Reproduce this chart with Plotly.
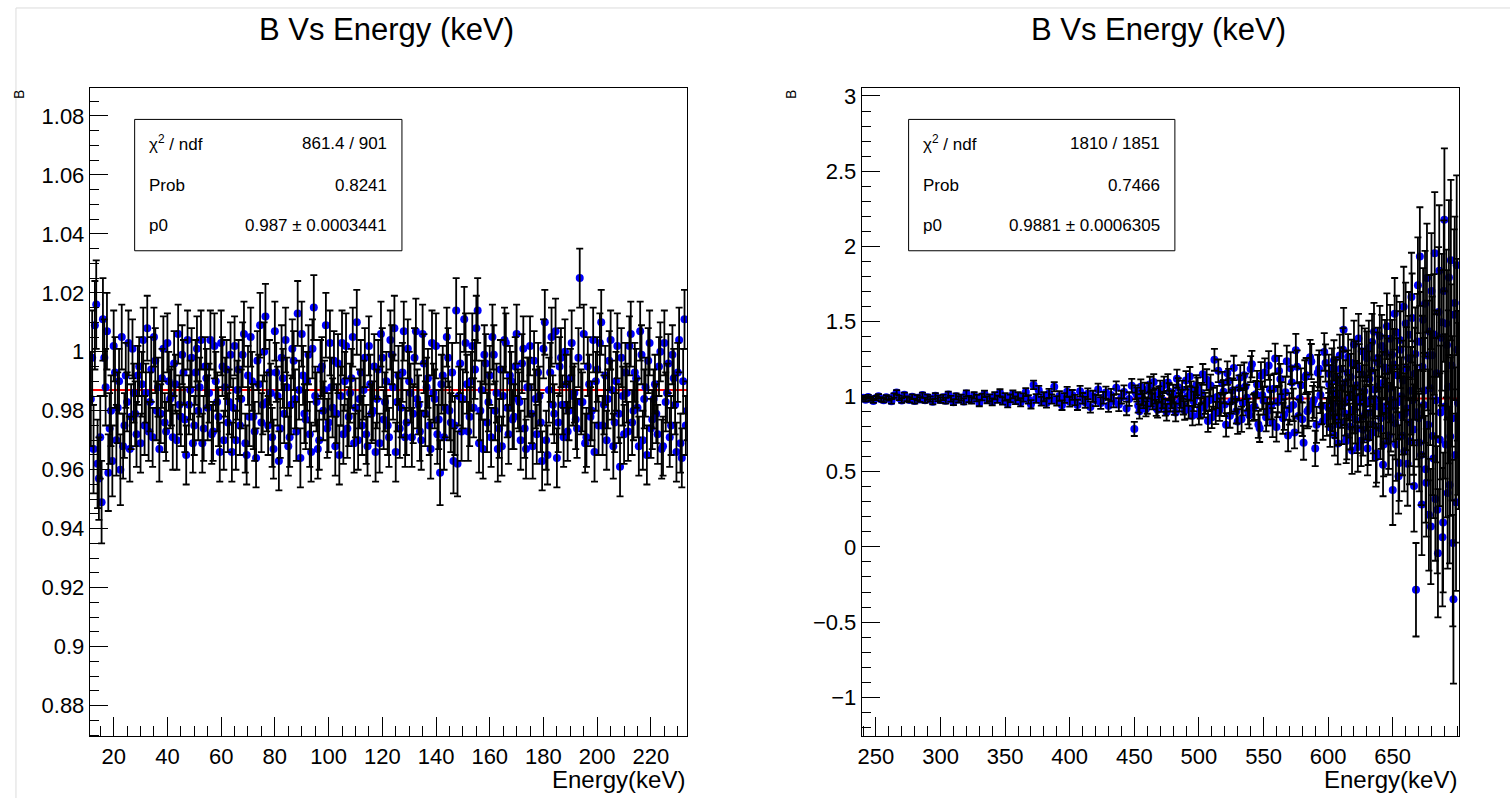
import plotly.graph_objects as go

# ================= left panel: 10-234 keV =================
# bins centred on x.5 keV
energy_left_a = [
    11.5, 12.5, 13.5, 14.5, 15.5, 16.5, 17.5, 18.5, 19.5, 20.5,
    21.5, 22.5, 23.5, 24.5, 25.5, 26.5, 27.5, 28.5, 29.5, 30.5,
    31.5, 32.5, 33.5, 34.5, 35.5, 36.5, 37.5, 38.5, 39.5, 40.5,
    41.5, 42.5, 43.5, 44.5, 45.5, 46.5, 47.5, 48.5, 49.5, 50.5,
    51.5, 52.5, 53.5, 54.5, 55.5, 56.5, 57.5, 58.5, 59.5, 60.5,
    61.5, 62.5, 63.5, 64.5, 65.5, 66.5, 67.5, 68.5, 69.5, 70.5,
    71.5, 72.5, 73.5, 74.5, 75.5, 76.5, 77.5, 78.5, 79.5, 80.5,
    81.5, 82.5, 83.5, 84.5, 85.5, 86.5, 87.5, 88.5, 89.5, 90.5,
    91.5, 92.5, 93.5, 94.5, 95.5, 96.5, 97.5, 98.5, 99.5, 100.5,
    101.5, 102.5, 103.5, 104.5, 105.5, 106.5, 107.5, 108.5, 109.5, 110.5,
    111.5, 112.5, 113.5, 114.5, 115.5, 116.5, 117.5, 118.5, 119.5, 120.5,
    121.5, 122.5, 123.5, 124.5, 125.5, 126.5, 127.5, 128.5, 129.5, 130.5,
    131.5, 132.5, 133.5, 134.5, 135.5, 136.5, 137.5, 138.5, 139.5, 140.5,
    141.5, 142.5, 143.5, 144.5, 145.5, 146.5, 147.5, 148.5, 149.5, 150.5,
    151.5, 152.5, 153.5, 154.5, 155.5, 156.5, 157.5, 158.5, 159.5, 160.5,
    161.5, 162.5, 163.5, 164.5, 165.5, 166.5, 167.5, 168.5, 169.5, 170.5,
    171.5, 172.5, 173.5, 174.5, 175.5, 176.5, 177.5, 178.5, 179.5, 180.5,
    181.5, 182.5, 183.5, 184.5, 185.5, 186.5, 187.5, 188.5, 189.5, 190.5,
    191.5, 192.5, 193.5, 194.5, 195.5, 196.5, 197.5, 198.5, 199.5, 200.5,
    201.5, 202.5, 203.5, 204.5, 205.5, 206.5, 207.5, 208.5, 209.5, 210.5,
    211.5, 212.5, 213.5, 214.5, 215.5, 216.5, 217.5, 218.5, 219.5, 220.5,
    221.5, 222.5, 223.5, 224.5, 225.5, 226.5, 227.5, 228.5, 229.5, 230.5,
    231.5, 232.5, 233.5,
]

b_left_a = [
    0.984, 0.967, 1.016, 0.957, 0.949, 0.998, 1.007, 0.974, 0.963, 0.993,
    0.981, 0.960, 0.968, 0.992, 1.003, 0.978, 0.986, 0.972, 0.995, 0.989,
    0.975, 1.008, 0.983, 0.971, 0.997, 0.988, 0.979, 1.001, 0.973, 0.990,
    0.985, 0.996, 0.970, 0.982, 0.999, 0.977, 1.004, 0.987, 0.969, 0.993,
    0.980, 1.004, 0.974, 0.991, 0.986, 0.972, 1.002, 0.983, 0.966, 0.995,
    0.988, 0.976, 0.999, 0.981, 0.970, 0.994, 0.984, 1.006, 0.965, 0.978,
    0.990, 0.973, 0.997, 1.009, 0.982, 1.012, 0.975, 0.986, 0.967, 0.993,
    0.963, 0.998, 0.979, 0.988, 0.971, 1.001, 0.984, 1.013, 0.964, 0.992,
    0.977, 0.999, 0.966, 1.015, 0.983, 0.970, 0.995, 0.987, 0.974, 1.003,
    0.981, 0.968, 0.996, 0.985, 0.972, 1.002, 0.978, 0.991, 0.969, 1.010,
    0.984, 0.975, 0.998, 0.968, 0.989, 0.980, 0.966, 0.994, 1.006, 0.977,
    0.990, 0.971, 0.999, 1.008, 0.983, 0.974, 0.993, 0.971, 1.001, 0.986,
    0.979, 1.007, 0.982, 0.970, 0.996, 0.988, 0.975, 1.003, 0.984, 0.972,
    0.959, 0.992, 0.981, 0.998, 0.976, 0.963, 1.014, 0.985, 0.973, 1.011,
    0.989, 0.978, 1.002, 0.994, 1.014, 0.980, 0.967, 0.996, 0.983, 0.971,
    0.999, 0.986, 0.974, 0.968, 1.004, 0.981, 0.992, 0.977, 0.995, 0.984,
    0.970, 1.001, 0.967, 0.988, 0.979, 0.997, 0.972, 0.985, 0.963, 1.010,
    0.965, 0.993, 0.982, 1.007, 0.976, 0.998, 0.971, 0.989, 0.980, 1.003,
    0.986, 0.974, 1.025, 0.983, 0.969, 0.995, 0.978, 1.004, 0.990, 0.975,
    1.010, 0.982, 0.970, 0.997, 0.987, 0.976, 1.002, 0.961, 0.985, 0.993,
    0.973, 1.006, 0.980, 0.991, 0.968, 0.999, 0.984, 0.965, 1.003, 0.977,
    0.989, 0.972, 1.000, 0.968, 0.983, 0.996, 0.975, 0.991, 0.966, 1.004,
    0.964, 1.011, 0.980,
]

err_left_a = [
    0.016, 0.015, 0.015, 0.014, 0.014, 0.013, 0.013, 0.012, 0.012, 0.012,
    0.012, 0.012, 0.011, 0.011, 0.011, 0.011, 0.010, 0.011, 0.010, 0.011,
    0.010, 0.011, 0.010, 0.010, 0.011, 0.010, 0.010, 0.011, 0.010, 0.010,
    0.010, 0.011, 0.010, 0.010, 0.010, 0.011, 0.010, 0.010, 0.010, 0.011,
    0.010, 0.010, 0.011, 0.010, 0.010, 0.010, 0.011, 0.010, 0.010, 0.010,
    0.010, 0.010, 0.011, 0.010, 0.010, 0.010, 0.010, 0.011, 0.010, 0.010,
    0.010, 0.010, 0.010, 0.011, 0.010, 0.011, 0.010, 0.010, 0.010, 0.010,
    0.010, 0.011, 0.010, 0.010, 0.010, 0.010, 0.010, 0.011, 0.010, 0.010,
    0.010, 0.010, 0.010, 0.011, 0.010, 0.010, 0.010, 0.010, 0.010, 0.011,
    0.010, 0.010, 0.010, 0.010, 0.010, 0.011, 0.010, 0.010, 0.010, 0.011,
    0.010, 0.010, 0.010, 0.010, 0.010, 0.010, 0.010, 0.010, 0.011, 0.010,
    0.010, 0.010, 0.010, 0.011, 0.010, 0.010, 0.010, 0.010, 0.010, 0.010,
    0.010, 0.011, 0.010, 0.010, 0.010, 0.010, 0.010, 0.011, 0.010, 0.010,
    0.011, 0.010, 0.010, 0.010, 0.010, 0.011, 0.011, 0.010, 0.010, 0.011,
    0.010, 0.010, 0.011, 0.010, 0.011, 0.010, 0.010, 0.010, 0.010, 0.010,
    0.010, 0.010, 0.010, 0.010, 0.011, 0.010, 0.010, 0.010, 0.010, 0.010,
    0.010, 0.011, 0.010, 0.010, 0.010, 0.010, 0.010, 0.010, 0.010, 0.011,
    0.010, 0.010, 0.010, 0.011, 0.010, 0.010, 0.010, 0.010, 0.010, 0.011,
    0.010, 0.010, 0.010, 0.010, 0.010, 0.010, 0.010, 0.011, 0.010, 0.010,
    0.011, 0.010, 0.010, 0.010, 0.010, 0.010, 0.011, 0.010, 0.010, 0.010,
    0.010, 0.011, 0.010, 0.010, 0.010, 0.010, 0.010, 0.010, 0.011, 0.010,
    0.010, 0.010, 0.010, 0.010, 0.010, 0.010, 0.010, 0.010, 0.010, 0.011,
    0.010, 0.010, 0.010,
]

# bins centred on whole keV
energy_left_b = [
    12, 13, 14, 15, 16, 17, 18, 19, 20, 21,
    22, 23, 24, 25, 26, 27, 28, 29, 30, 31,
    32, 33, 34, 35, 36, 37, 38, 39, 40, 41,
    42, 43, 44, 45, 46, 47, 48, 49, 50, 51,
    52, 53, 54, 55, 56, 57, 58, 59, 60, 61,
    62, 63, 64, 65, 66, 67, 68, 69, 70, 71,
    72, 73, 74, 75, 76, 77, 78, 79, 80, 81,
    82, 83, 84, 85, 86, 87, 88, 89, 90, 91,
    92, 93, 94, 95, 96, 97, 98, 99, 100, 101,
    102, 103, 104, 105, 106, 107, 108, 109, 110, 111,
    112, 113, 114, 115, 116, 117, 118, 119, 120, 121,
    122, 123, 124, 125, 126, 127, 128, 129, 130, 131,
    132, 133, 134, 135, 136, 137, 138, 139, 140, 141,
    142, 143, 144, 145, 146, 147, 148, 149, 150, 151,
    152, 153, 154, 155, 156, 157, 158, 159, 160, 161,
    162, 163, 164, 165, 166, 167, 168, 169, 170, 171,
    172, 173, 174, 175, 176, 177, 178, 179, 180, 181,
    182, 183, 184, 185, 186, 187, 188, 189, 190, 191,
    192, 193, 194, 195, 196, 197, 198, 199, 200, 201,
    202, 203, 204, 205, 206, 207, 208, 209, 210, 211,
    212, 213, 214, 215, 216, 217, 218, 219, 220, 221,
    222, 223, 224, 225, 226, 227, 228, 229, 230, 231,
    232, 233,
]

b_left_b = [
    0.998, 1.009, 0.962, 0.971, 1.011, 0.988, 0.959, 0.980, 1.002, 0.970,
    0.990, 1.005, 0.975, 0.983, 0.967, 1.001, 0.979, 0.992, 0.969, 1.004,
    0.986, 0.973, 0.994, 1.005, 0.980, 0.967, 0.991, 0.976, 1.003, 0.984,
    0.971, 0.989, 1.006, 0.978, 0.993, 0.965, 0.982, 0.998, 0.975, 1.001,
    0.988, 0.969, 0.995, 0.981, 1.004, 0.973, 0.990, 0.978, 1.003, 0.970,
    0.994, 0.983, 0.966, 1.002, 0.987, 0.975, 0.999, 0.969, 0.992, 1.005,
    0.978, 0.964, 0.989, 0.976, 1.000, 0.983, 0.993, 0.971, 1.007, 0.985,
    0.974, 0.991, 1.004, 0.968, 0.982, 0.997, 0.973, 0.987, 1.006, 0.979,
    0.990, 0.972, 1.001, 0.985, 0.967, 0.994, 0.980, 1.009, 0.976, 0.988,
    0.997, 0.979, 0.965, 1.003, 0.990, 0.974, 0.986, 1.005, 0.981, 0.970,
    0.993, 0.987, 0.972, 1.002, 0.979, 0.995, 0.984, 0.969, 0.998, 0.983,
    0.975, 1.004, 0.988, 0.966, 0.992, 0.981, 1.007, 0.976, 0.990, 0.971,
    0.998, 0.984, 0.973, 1.006, 0.979, 0.991, 0.967, 0.986, 1.002, 0.977,
    0.989, 0.971, 1.005, 0.980, 0.993, 0.975, 0.962, 0.996, 0.984, 1.003,
    0.973, 0.990, 0.981, 1.008, 0.969, 0.987, 0.999, 0.976, 0.992, 1.005,
    0.980, 0.967, 0.994, 0.985, 1.003, 0.972, 0.990, 0.978, 1.006, 0.983,
    0.996, 0.974, 0.988, 1.002, 0.968, 0.984, 0.993, 0.976, 1.001, 0.970,
    0.987, 1.005, 0.979, 0.964, 0.995, 0.982, 1.000, 0.973, 0.991, 0.985,
    0.977, 0.998, 0.983, 1.006, 0.971, 0.989, 0.980, 0.966, 0.994, 1.003,
    0.975, 0.992, 0.984, 1.004, 0.968, 0.990, 0.979, 0.998, 0.972, 0.986,
    1.002, 0.976, 0.993, 0.981, 1.007, 0.970, 0.988, 0.997, 0.974, 0.984,
    0.979, 0.995, 0.967, 1.003, 0.986, 0.971, 0.999, 0.982, 0.993, 0.969,
    0.990, 0.975,
]

err_left_b = [
    0.016, 0.015, 0.015, 0.014, 0.014, 0.013, 0.013, 0.012, 0.012, 0.012,
    0.011, 0.011, 0.011, 0.010, 0.011, 0.010, 0.011, 0.010, 0.010, 0.011,
    0.010, 0.010, 0.011, 0.010, 0.010, 0.011, 0.010, 0.010, 0.010, 0.010,
    0.011, 0.010, 0.010, 0.010, 0.011, 0.010, 0.010, 0.010, 0.010, 0.011,
    0.010, 0.010, 0.010, 0.011, 0.010, 0.010, 0.010, 0.010, 0.011, 0.010,
    0.010, 0.011, 0.010, 0.010, 0.010, 0.010, 0.011, 0.010, 0.010, 0.010,
    0.011, 0.010, 0.010, 0.010, 0.010, 0.010, 0.011, 0.010, 0.010, 0.010,
    0.010, 0.010, 0.011, 0.010, 0.010, 0.010, 0.010, 0.010, 0.011, 0.010,
    0.010, 0.011, 0.010, 0.010, 0.010, 0.010, 0.010, 0.011, 0.010, 0.010,
    0.010, 0.010, 0.010, 0.011, 0.010, 0.010, 0.010, 0.010, 0.010, 0.010,
    0.011, 0.010, 0.010, 0.010, 0.010, 0.011, 0.010, 0.010, 0.010, 0.010,
    0.010, 0.010, 0.011, 0.010, 0.010, 0.010, 0.010, 0.011, 0.010, 0.010,
    0.010, 0.010, 0.010, 0.010, 0.011, 0.010, 0.010, 0.010, 0.011, 0.010,
    0.010, 0.011, 0.010, 0.010, 0.010, 0.010, 0.011, 0.010, 0.010, 0.010,
    0.010, 0.010, 0.010, 0.011, 0.010, 0.010, 0.010, 0.010, 0.010, 0.011,
    0.010, 0.011, 0.010, 0.010, 0.010, 0.010, 0.010, 0.011, 0.010, 0.010,
    0.010, 0.010, 0.010, 0.010, 0.011, 0.010, 0.010, 0.010, 0.010, 0.010,
    0.011, 0.010, 0.010, 0.010, 0.010, 0.010, 0.011, 0.010, 0.010, 0.010,
    0.010, 0.010, 0.011, 0.010, 0.010, 0.010, 0.010, 0.010, 0.011, 0.010,
    0.010, 0.010, 0.010, 0.010, 0.011, 0.010, 0.010, 0.010, 0.010, 0.010,
    0.010, 0.011, 0.010, 0.010, 0.010, 0.010, 0.010, 0.011, 0.010, 0.010,
    0.010, 0.010, 0.010, 0.011, 0.010, 0.010, 0.010, 0.010, 0.010, 0.010,
    0.011, 0.010,
]

# ================= right panel: 239-701 keV =================
energy_right_a = [
    240, 242, 244, 246, 248, 250, 252, 254, 256, 258,
    260, 262, 264, 266, 268, 270, 272, 274, 276, 278,
    280, 282, 284, 286, 288, 290, 292, 294, 296, 298,
    300, 302, 304, 306, 308, 310, 312, 314, 316, 318,
    320, 322, 324, 326, 328, 330, 332, 334, 336, 338,
    340, 342, 344, 346, 348, 350, 352, 354, 356, 358,
    360, 362, 364, 366, 368, 370, 372, 374, 376, 378,
    380, 382, 384, 386, 388, 390, 392, 394, 396, 398,
    400, 402, 404, 406, 408, 410, 412, 414, 416, 418,
    420, 422, 424, 426, 428, 430, 432, 434, 436, 438,
    440, 442, 444, 446, 448, 450, 452, 454, 456, 458,
    460, 462, 464, 466, 468, 470, 472, 474, 476, 478,
    480, 482, 484, 486, 488, 490, 492, 494, 496, 498,
    500, 502, 504, 506, 508, 510, 512, 514, 516, 518,
    520, 522, 524, 526, 528, 530, 532, 534, 536, 538,
    540, 542, 544, 546, 548, 550, 552, 554, 556, 558,
    560, 562, 564, 566, 568, 570, 572, 574, 576, 578,
    580, 582, 584, 586, 588, 590, 592, 594, 596, 598,
    600, 601, 602, 603, 604, 605, 606, 607, 608, 609,
    610, 611, 612, 613, 614, 615, 616, 617, 618, 619,
    620, 621, 622, 623, 624, 625, 626, 627, 628, 629,
    630, 631, 632, 633, 634, 635, 636, 637, 638, 639,
    640, 641, 642, 643, 644, 645, 646, 647, 648, 649,
    650, 651, 652, 653, 654, 655, 656, 657, 658, 659,
    660, 661, 662, 663, 664, 665, 666, 667, 668, 669,
    670, 671, 672, 673, 674, 675, 676, 677, 678, 679,
    680, 681, 682, 683, 684, 685, 686, 687, 688, 689,
    690, 691, 692, 693, 694, 695, 696, 697, 698, 699,
    700, 701,
]

b_right_a = [
    0.992, 0.979, 0.998, 0.984, 0.971, 0.990, 1.003, 0.982, 0.976, 0.995,
    0.987, 0.969, 1.006, 1.028, 0.991, 0.974, 1.012, 0.986, 0.978, 0.999,
    0.970, 0.993, 0.981, 1.010, 0.975, 0.996, 0.984, 0.966, 1.005, 0.988,
    0.977, 0.995, 0.972, 1.014, 0.986, 0.963, 1.002, 0.981, 0.993, 0.968,
    1.021, 0.984, 0.975, 1.008, 0.990, 0.958, 0.997, 1.018, 0.979, 0.992,
    0.965, 1.006, 0.983, 1.025, 0.971, 0.998, 0.954, 0.989, 1.015, 0.976,
    1.003, 0.962, 0.994, 1.030, 0.981, 0.949, 1.078, 0.987, 1.042, 0.969,
    0.999, 0.957, 1.021, 0.984, 1.066, 0.972, 1.004, 0.943, 0.991, 1.032,
    0.966, 1.011, 0.978, 0.945, 1.036, 0.989, 0.962, 1.019, 0.931, 1.002,
    0.975, 1.048, 0.958, 0.993, 1.027, 0.939, 1.010, 0.970, 1.059, 0.947,
    0.996, 1.031, 0.921, 0.984, 1.072, 0.785, 1.013, 0.902, 0.990, 1.044,
    0.936, 1.081, 0.967, 1.005, 0.913, 1.052, 0.978, 0.929, 1.094, 0.958,
    1.021, 0.894, 1.063, 0.985, 0.942, 1.108, 0.917, 1.037, 0.968, 1.076,
    0.880, 1.024, 0.931, 1.112, 0.975, 0.862, 1.245, 0.998, 0.913, 1.089,
    0.947, 1.156, 0.872, 1.041, 0.981, 0.834, 1.127, 0.959, 1.068, 0.901,
    1.183, 0.926, 1.015, 0.815, 1.139, 0.972, 0.863, 1.207, 0.944, 1.052,
    0.798, 1.171, 0.995, 0.881, 1.236, 0.918, 1.094, 0.762, 1.198, 0.987,
    0.849, 1.129, 0.903, 1.262, 0.955, 0.655, 1.158, 1.011, 0.836, 1.224,
    0.927, 1.082, 0.873, 1.190, 0.951, 0.742, 1.127, 1.018, 0.816, 1.273,
    0.934, 1.061, 1.445, 0.887, 0.705, 1.158, 0.993, 0.801, 1.224, 0.912,
    1.347, 0.848, 1.076, 0.664, 1.183, 0.961, 1.302, 0.779, 1.035, 0.892,
    1.256, 0.725, 1.118, 0.983, 1.364, 0.812, 1.047, 0.596, 1.231, 0.934,
    1.402, 0.857, 1.089, 0.681, 1.296, 0.905, 1.168, 0.742, 1.385, 0.978,
    0.378, 1.214, 0.823, 1.427, 0.962, 0.558, 1.312, 0.874, 1.108, 0.637,
    1.486, 0.921, 1.256, 0.703, 1.039, 1.523, 0.781, 1.152, -0.285, 1.367,
    0.856, 1.932, 0.612, 1.198, 0.945, 1.618, 0.427, 1.274, 0.214, 1.056,
    1.702, 0.738, 1.413, 0.318, 1.155, -0.042, 1.837, 0.894, 1.495, 0.163,
    2.176, 0.682, 1.344, 1.065, 0.412, 1.908, 0.856, -0.348, 1.623, 0.297,
    1.312, 0.871,
]

err_right_a = [
    0.013, 0.013, 0.013, 0.013, 0.013, 0.014, 0.014, 0.014, 0.014, 0.014,
    0.014, 0.015, 0.015, 0.015, 0.015, 0.015, 0.015, 0.016, 0.016, 0.016,
    0.016, 0.016, 0.016, 0.017, 0.017, 0.017, 0.017, 0.017, 0.018, 0.018,
    0.018, 0.018, 0.019, 0.019, 0.019, 0.019, 0.020, 0.020, 0.020, 0.020,
    0.021, 0.021, 0.021, 0.021, 0.022, 0.022, 0.022, 0.022, 0.023, 0.023,
    0.023, 0.024, 0.024, 0.024, 0.024, 0.025, 0.025, 0.025, 0.026, 0.026,
    0.026, 0.027, 0.027, 0.027, 0.028, 0.028, 0.028, 0.029, 0.029, 0.029,
    0.030, 0.030, 0.030, 0.031, 0.031, 0.031, 0.032, 0.032, 0.032, 0.033,
    0.033, 0.033, 0.034, 0.034, 0.035, 0.035, 0.036, 0.036, 0.037, 0.037,
    0.038, 0.038, 0.039, 0.039, 0.040, 0.040, 0.041, 0.042, 0.042, 0.043,
    0.043, 0.044, 0.045, 0.045, 0.046, 0.047, 0.047, 0.048, 0.049, 0.049,
    0.050, 0.051, 0.052, 0.052, 0.053, 0.054, 0.055, 0.055, 0.056, 0.057,
    0.058, 0.059, 0.060, 0.060, 0.061, 0.062, 0.063, 0.064, 0.065, 0.066,
    0.067, 0.068, 0.069, 0.070, 0.071, 0.072, 0.073, 0.074, 0.075, 0.076,
    0.077, 0.078, 0.079, 0.080, 0.081, 0.082, 0.083, 0.084, 0.085, 0.086,
    0.087, 0.088, 0.089, 0.090, 0.091, 0.092, 0.094, 0.095, 0.096, 0.097,
    0.098, 0.100, 0.101, 0.102, 0.103, 0.105, 0.106, 0.107, 0.109, 0.110,
    0.111, 0.113, 0.114, 0.116, 0.117, 0.118, 0.120, 0.121, 0.123, 0.124,
    0.126, 0.128, 0.129, 0.131, 0.132, 0.134, 0.135, 0.137, 0.138, 0.140,
    0.141, 0.143, 0.145, 0.146, 0.148, 0.150, 0.151, 0.153, 0.155, 0.157,
    0.158, 0.160, 0.162, 0.164, 0.166, 0.168, 0.170, 0.172, 0.174, 0.176,
    0.178, 0.180, 0.183, 0.185, 0.187, 0.190, 0.192, 0.195, 0.197, 0.200,
    0.202, 0.205, 0.208, 0.211, 0.214, 0.217, 0.220, 0.223, 0.226, 0.229,
    0.232, 0.236, 0.240, 0.244, 0.248, 0.252, 0.256, 0.260, 0.264, 0.268,
    0.272, 0.277, 0.281, 0.286, 0.291, 0.296, 0.301, 0.306, 0.311, 0.316,
    0.322, 0.328, 0.334, 0.340, 0.346, 0.352, 0.358, 0.365, 0.372, 0.379,
    0.386, 0.394, 0.402, 0.410, 0.418, 0.427, 0.436, 0.445, 0.455, 0.465,
    0.475, 0.486, 0.497, 0.509, 0.521, 0.534, 0.547, 0.561, 0.575, 0.590,
    0.605, 0.620,
]

# extra bins where the spectrum thins out (odd keV up to 600, half keV above)
energy_right_b = [
    451, 453, 455, 457, 459, 461, 463, 465, 467, 469,
    471, 473, 475, 477, 479, 481, 483, 485, 487, 489,
    491, 493, 495, 497, 499, 501, 503, 505, 507, 509,
    511, 513, 515, 517, 519, 521, 523, 525, 527, 529,
    531, 533, 535, 537, 539, 541, 543, 545, 547, 549,
    551, 553, 555, 557, 559, 561, 563, 565, 567, 569,
    571, 573, 575, 577, 579, 581, 583, 585, 587, 589,
    591, 593, 595, 597, 599,
    600.5, 601.5, 602.5, 603.5, 604.5, 605.5, 606.5, 607.5, 608.5, 609.5,
    610.5, 611.5, 612.5, 613.5, 614.5, 615.5, 616.5, 617.5, 618.5, 619.5,
    620.5, 621.5, 622.5, 623.5, 624.5, 625.5, 626.5, 627.5, 628.5, 629.5,
    630.5, 631.5, 632.5, 633.5, 634.5, 635.5, 636.5, 637.5, 638.5, 639.5,
    640.5, 641.5, 642.5, 643.5, 644.5, 645.5, 646.5, 647.5, 648.5, 649.5,
    650.5, 651.5, 652.5, 653.5, 654.5, 655.5, 656.5, 657.5, 658.5, 659.5,
    660.5, 661.5, 662.5, 663.5, 664.5, 665.5, 666.5, 667.5, 668.5, 669.5,
    670.5, 671.5, 672.5, 673.5, 674.5, 675.5, 676.5, 677.5, 678.5, 679.5,
    680.5, 681.5, 682.5, 683.5, 684.5, 685.5, 686.5, 687.5, 688.5, 689.5,
    690.5, 691.5, 692.5, 693.5, 694.5, 695.5, 696.5, 697.5, 698.5, 699.5,
    700.5,
]

b_right_b = [
    1.028, 0.941, 1.066, 0.972, 0.918, 1.039, 0.987, 1.097, 0.925, 1.014,
    0.953, 1.078, 0.896, 1.032, 0.981, 0.937, 1.119, 0.962, 1.046, 0.908,
    1.002, 1.133, 0.873, 0.996, 1.059, 0.922, 1.148, 0.955, 0.837, 1.074,
    0.986, 0.891, 1.172, 0.948, 1.033, 0.812, 1.105, 0.967, 1.191, 0.903,
    1.058, 0.849, 1.142, 0.993, 0.876, 1.216, 0.934, 1.081, 0.789, 1.009,
    1.161, 0.902, 1.047, 0.827, 1.253, 0.964, 1.117, 0.856, 1.029, 0.741,
    1.189, 0.945, 1.308, 0.871, 1.076, 0.693, 1.142, 0.916, 1.233, 0.978,
    0.812, 1.185, 0.939, 1.297, 0.865,
    1.152, 0.796, 1.035, 0.904, 1.241, 0.862, 1.108, 0.688, 0.987, 1.183,
    0.826, 1.312, 0.957, 1.094, 0.731, 1.265, 0.879, 1.131, 0.642, 1.038,
    0.915, 1.208, 0.787, 1.386, 0.998, 0.706, 1.147, 0.869, 1.279, 0.951,
    0.655, 1.323, 0.894, 1.172, 0.761, 1.432, 0.983, 0.624, 1.259, 1.071,
    0.788, 1.337, 0.547, 1.193, 0.936, 1.468, 0.702, 1.054, 0.863, 1.279,
    0.934, 1.551, 0.682, 1.142, 0.471, 1.376, 1.003, 0.739, 1.598, 0.886,
    1.187, 0.553, 1.412, 0.827, 1.663, 0.975, 0.406, 1.284, 0.896, 1.741,
    0.694, 1.365, 0.283, 1.512, 1.041, 0.517, 1.789, 0.812, 1.433, 0.136,
    1.276, 0.589, 1.954, 0.976, 0.247, 1.563, 0.713, 1.391, 0.065, 1.702,
    0.935, 1.486, 0.358, 1.792, 0.734, 1.207, 0.026, 1.545, 0.612, 1.874,
    0.958,
]

err_right_b = [
    0.047, 0.048, 0.049, 0.049, 0.050, 0.051, 0.052, 0.052, 0.053, 0.054,
    0.054, 0.055, 0.056, 0.057, 0.058, 0.059, 0.060, 0.061, 0.061, 0.062,
    0.063, 0.064, 0.065, 0.066, 0.067, 0.068, 0.069, 0.070, 0.071, 0.072,
    0.073, 0.074, 0.075, 0.076, 0.077, 0.078, 0.079, 0.080, 0.081, 0.082,
    0.083, 0.084, 0.085, 0.086, 0.087, 0.088, 0.089, 0.090, 0.091, 0.092,
    0.093, 0.095, 0.096, 0.097, 0.099, 0.100, 0.101, 0.103, 0.104, 0.105,
    0.106, 0.108, 0.109, 0.110, 0.112, 0.113, 0.115, 0.116, 0.117, 0.119,
    0.120, 0.122, 0.123, 0.125, 0.126,
    0.127, 0.130, 0.131, 0.133, 0.134, 0.136, 0.137, 0.139, 0.140, 0.142,
    0.142, 0.144, 0.146, 0.148, 0.149, 0.151, 0.152, 0.154, 0.156, 0.158,
    0.159, 0.161, 0.163, 0.165, 0.167, 0.169, 0.171, 0.173, 0.175, 0.177,
    0.179, 0.182, 0.184, 0.186, 0.189, 0.191, 0.194, 0.196, 0.199, 0.201,
    0.204, 0.207, 0.210, 0.213, 0.216, 0.219, 0.222, 0.225, 0.228, 0.231,
    0.234, 0.238, 0.242, 0.246, 0.250, 0.254, 0.258, 0.262, 0.266, 0.270,
    0.275, 0.279, 0.284, 0.289, 0.294, 0.299, 0.304, 0.309, 0.314, 0.319,
    0.325, 0.331, 0.337, 0.343, 0.349, 0.355, 0.362, 0.369, 0.376, 0.383,
    0.390, 0.398, 0.406, 0.414, 0.423, 0.432, 0.441, 0.450, 0.460, 0.470,
    0.481, 0.492, 0.503, 0.515, 0.528, 0.540, 0.554, 0.568, 0.583, 0.598,
    0.612,
]

# ---------------- fit results (pol0) ----------------
p0_left = 0.987
p0_right = 0.9881
stats_left = ["861.4 / 901", "0.8241", "0.987 \u00b1 0.0003441"]
stats_right = ["1810 / 1851", "0.7466", "0.9881 \u00b1 0.0006305"]
stats_names = ["\u03c7<sup>2</sup> / ndf", "Prob", "p0"]

# ---------------- tick labels ----------------
yticks_left = [0.88, 0.90, 0.92, 0.94, 0.96, 0.98, 1.00, 1.02, 1.04, 1.06, 1.08]
yticktext_left = ["0.88", "0.9", "0.92", "0.94", "0.96", "0.98", "1", "1.02", "1.04", "1.06", "1.08"]
xticks_left = [20, 40, 60, 80, 100, 120, 140, 160, 180, 200, 220]
yticks_right = [-1, -0.5, 0, 0.5, 1, 1.5, 2, 2.5, 3]
yticktext_right = ["\u22121", "\u22120.5", "0", "0.5", "1", "1.5", "2", "2.5", "3"]
xticks_right = [250, 300, 350, 400, 450, 500, 550, 600, 650]

TITLE = "B Vs Energy (keV)"
XTITLE = "Energy(keV)"
YTITLE = "B"

# ---------------- page geometry (pixels) ----------------
W, H = 1510, 798
FONT = "Liberation Sans, Arial, Helvetica, sans-serif"


def fx(p):
    return p / W


def fy(p):
    return 1 - p / H


frames = {
    "left": dict(x0=86, x1=685),
    "right": dict(x0=860, x1=1459),
}
FRAME_TOP, FRAME_BOTTOM = 84, 736

fig = go.Figure()


def add_panel(xa, ya, energy, b, err, p0):
    # fitted constant underneath the data
    fig.add_trace(go.Scatter(
        x=[min(energy), max(energy)], y=[p0, p0], mode="lines",
        line=dict(color="#ff0000", width=2),
        xaxis=xa, yaxis=ya, hoverinfo="skip", showlegend=False))
    # markers
    fig.add_trace(go.Scatter(
        x=energy, y=b, mode="markers",
        marker=dict(color="#0000ff", size=8, line=dict(width=0)),
        xaxis=xa, yaxis=ya, hoverinfo="skip", showlegend=False))
    # error bars drawn over the markers
    fig.add_trace(go.Scatter(
        x=energy, y=b, mode="markers",
        marker=dict(color="black", size=1, opacity=0),
        error_y=dict(type="data", array=err, color="black",
                     thickness=1.8, width=3.5),
        xaxis=xa, yaxis=ya, hoverinfo="skip", showlegend=False))


add_panel("x", "y", energy_left_a + energy_left_b, b_left_a + b_left_b,
          err_left_a + err_left_b, p0_left)
add_panel("x2", "y2", energy_right_a + energy_right_b, b_right_a + b_right_b,
          err_right_a + err_right_b, p0_right)

axis_common = dict(
    showgrid=False, zeroline=False, showline=True, linecolor="black",
    linewidth=1, mirror=True, ticks="inside", tickcolor="black",
    tickwidth=1, tickfont=dict(family=FONT, size=22, color="black"),
)

ydom = [fy(FRAME_BOTTOM), fy(FRAME_TOP)]

fig.update_layout(
    width=W, height=H,
    margin=dict(l=0, r=0, t=0, b=0),
    paper_bgcolor="white", plot_bgcolor="white",
    showlegend=False,
    xaxis=dict(axis_common, domain=[fx(86), fx(685)], range=[11.1, 233.5],
               tickmode="array", tickvals=xticks_left, ticklen=19,
               minor=dict(ticks="inside", ticklen=10, tickcolor="black",
                          tickwidth=1, tickmode="linear", tick0=0, dtick=5),
               anchor="y"),
    yaxis=dict(axis_common, domain=ydom, range=[0.8696, 1.0896],
               tickmode="array", tickvals=yticks_left, ticktext=yticktext_left,
               ticklen=18,
               minor=dict(ticks="inside", ticklen=9, tickcolor="black",
                          tickwidth=1, tickmode="linear", tick0=0.88, dtick=0.005),
               anchor="x"),
    xaxis2=dict(axis_common, domain=[fx(860), fx(1459)], range=[239.0, 701.4],
                tickmode="array", tickvals=xticks_right, ticklen=19,
                minor=dict(ticks="inside", ticklen=10, tickcolor="black",
                           tickwidth=1, tickmode="linear", tick0=0, dtick=10),
                anchor="y2"),
    yaxis2=dict(axis_common, domain=ydom, range=[-1.26, 3.056],
                tickmode="array", tickvals=yticks_right, ticktext=yticktext_right,
                ticklen=18,
                minor=dict(ticks="inside", ticklen=9, tickcolor="black",
                           tickwidth=1, tickmode="linear", tick0=0, dtick=0.1),
                anchor="x2"),
)

shapes = []
annotations = []

# light canvas border
shapes.append(dict(type="line", xref="paper", yref="paper",
                   x0=fx(12), x1=1, y0=fy(4), y1=fy(4),
                   line=dict(color="#dcdcdc", width=1)))
shapes.append(dict(type="line", xref="paper", yref="paper",
                   x0=fx(12), x1=fx(12), y0=0, y1=fy(4),
                   line=dict(color="#dcdcdc", width=1)))

stat_boxes = {
    "left": dict(x0=131, x1=399, stats=stats_left),
    "right": dict(x0=907, x1=1174, stats=stats_right),
}
BOX_TOP, BOX_BOTTOM = 116, 248
ROW_Y = [140, 182, 223]

for key in ("left", "right"):
    fr = frames[key]
    cx = (fr["x0"] + fr["x1"]) / 2
    annotations.append(dict(
        x=fx(cx - 2), y=fy(26), xref="paper", yref="paper", text=TITLE,
        showarrow=False, xanchor="center", yanchor="middle",
        font=dict(family=FONT, size=31, color="black")))
    annotations.append(dict(
        x=fx(fr["x1"]), y=fy(779), xref="paper", yref="paper", text=XTITLE,
        showarrow=False, xanchor="right", yanchor="middle",
        font=dict(family=FONT, size=24, color="black")))
    annotations.append(dict(
        x=fx(fr["x0"] - 71), y=fy(84), xref="paper", yref="paper", text=YTITLE,
        showarrow=False, xanchor="center", yanchor="top", textangle=-90,
        font=dict(family=FONT, size=14, color="black")))

    bx = stat_boxes[key]
    shapes.append(dict(type="rect", xref="paper", yref="paper",
                       x0=fx(bx["x0"]), x1=fx(bx["x1"]),
                       y0=fy(BOX_BOTTOM), y1=fy(BOX_TOP),
                       fillcolor="white", line=dict(color="black", width=1),
                       layer="above"))
    for name, val, ry in zip(stats_names, bx["stats"], ROW_Y):
        annotations.append(dict(
            x=fx(bx["x0"] + 12), y=fy(ry), xref="paper", yref="paper",
            text=name, showarrow=False, xanchor="left", yanchor="middle",
            font=dict(family=FONT, size=17, color="black")))
        annotations.append(dict(
            x=fx(bx["x1"] - 13), y=fy(ry), xref="paper", yref="paper",
            text=val, showarrow=False, xanchor="right", yanchor="middle",
            font=dict(family=FONT, size=17, color="black")))

fig.update_layout(shapes=shapes, annotations=annotations)

fig.write_html("out.html")
